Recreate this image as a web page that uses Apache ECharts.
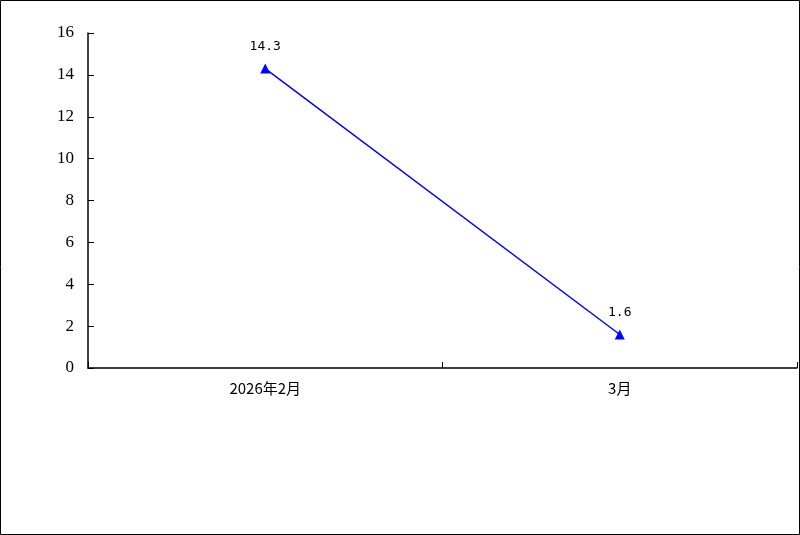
<!DOCTYPE html>
<html>
<head>
<meta charset="utf-8">
<script src="https://cdn.jsdelivr.net/npm/echarts@6/dist/echarts.min.js"></script>
<style>
  html, body { margin: 0; padding: 0; background: #fff; }
  #main { width: 800px; height: 535px; }
</style>
</head>
<body>
<div id="main"></div>
<script>
// 数据
var categories = ['2026年2月', '3月'];
var values = [14.3, 1.6];

var chart = echarts.init(document.getElementById('main'));
chart.setOption({
    animation: false,
    backgroundColor: '#fff',
    graphic: [{
        type: 'rect',
        shape: { x: 0.5, y: 0.5, width: 799, height: 534 },
        style: { fill: 'none', stroke: '#000', lineWidth: 1 },
        silent: true
    }],
    grid: {
        left: 88,
        right: 3,
        top: 33,
        bottom: 167
    },
    xAxis: {
        type: 'category',
        data: categories,
        boundaryGap: true,
        axisLine: { lineStyle: { color: '#000', width: 1.5 } },
        axisTick: { show: true, inside: true, length: 6, lineStyle: { color: '#000' } },
        axisLabel: {
            color: '#000',
            fontSize: 15,
            margin: 13,
            fontFamily: 'Noto Sans CJK SC'
        },
        splitLine: { show: false }
    },
    yAxis: {
        type: 'value',
        min: 0,
        max: 16,
        interval: 2,
        axisLine: { show: true, lineStyle: { color: '#000', width: 1.5 } },
        axisTick: { show: true, inside: true, length: 6, lineStyle: { color: '#000' } },
        axisLabel: {
            color: '#000',
            fontSize: 17,
            margin: 14,
            fontFamily: 'Liberation Serif'
        },
        splitLine: { show: false }
    },
    series: [{
        type: 'line',
        data: values,
        symbol: 'triangle',
        symbolSize: 10,
        color: '#0000ff',
        lineStyle: { color: '#0000ff', width: 1.5 },
        itemStyle: { color: '#0000ff' },
        label: {
            show: true,
            position: 'top',
            distance: 10,
            color: '#000',
            fontSize: 13,
            fontFamily: 'DejaVu Sans Mono',
            formatter: function (p) {
                return p.value.toFixed(1);
            }
        }
    }]
});
</script>
</body>
</html>
